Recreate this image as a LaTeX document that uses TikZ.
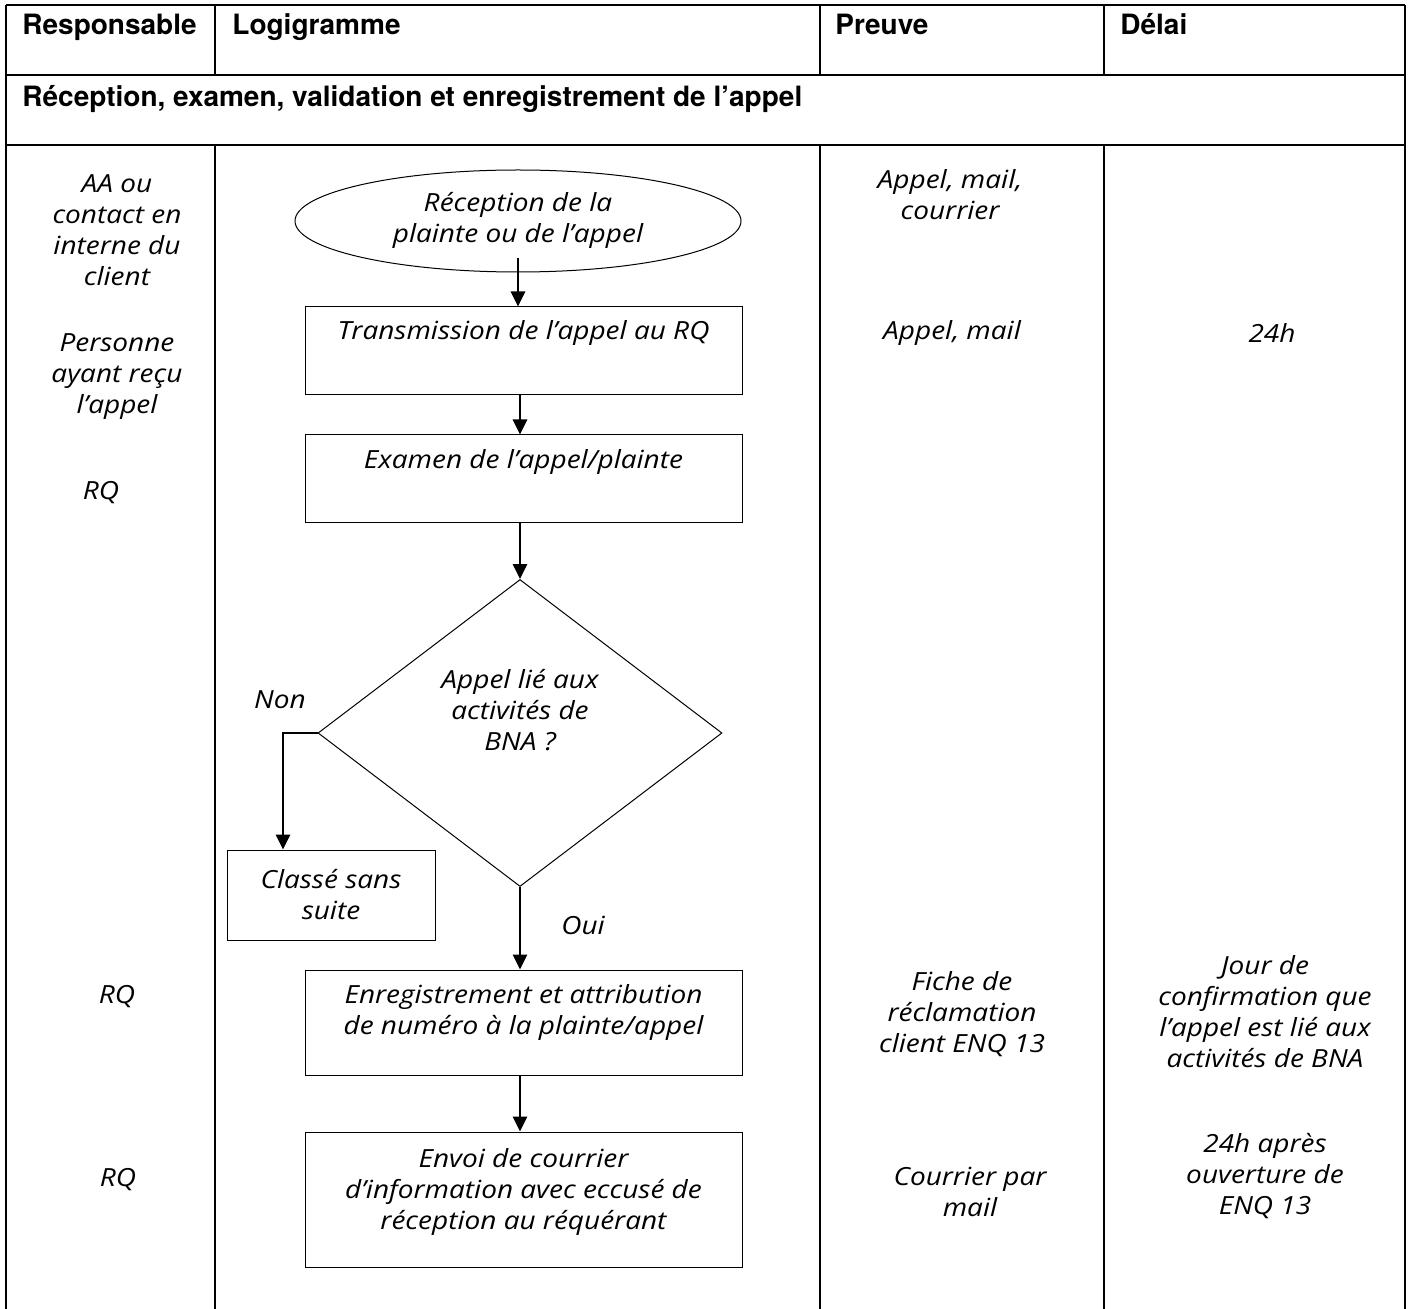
\documentclass[tikz,border=0pt]{standalone}
\usepackage{fontspec}
\newfontfamily\bodyfont{Open Sans}[FakeStretch=1.12]
\newfontfamily\headfont{TeX Gyre Heros}
\usetikzlibrary{arrows.meta}
\usetikzlibrary{shapes.geometric}

\begin{document}
\begin{tikzpicture}[x=0.5pt, y=-0.5pt]
            \tikzset{rule/.style={line width=0.9pt}}
            \tikzset{head/.style={font=\headfont\bfseries\fontsize{14}{16}\selectfont, anchor=base west, inner sep=0pt}}
            \tikzset{txt/.style={font=\bodyfont\itshape\fontsize{12.5}{15.5}\selectfont, align=center, inner sep=0pt}}
            \tikzset{box/.style={txt, draw, line width=0.5pt, minimum width=218.5pt}}
            \tikzset{flow/.style={-{Triangle[length=7.5pt, width=7pt]}, line width=1.35pt}}
            \useasboundingbox (0, 0) rectangle (1411, 1309);
            \foreach \y in {5, 75, 145} {
                \draw[rule] (6, \y) -- (1405, \y);
            }
            \foreach \x in {6, 1405} {
                \draw[rule] (\x, 5) -- (\x, 1309);
            }
            \foreach \x in {215, 820, 1104} {
                \draw[rule] (\x, 5) -- (\x, 75);
                \draw[rule] (\x, 145) -- (\x, 1309);
            }
            \node[head] (hdresp) at (22, 35) {Responsable};
            \node[head] (hdlogi) at (232, 35) {Logigramme};
            \node[head] (hdpreuve) at (835, 35) {Preuve};
            \node[head] (hddelai) at (1120, 35) {Délai};
            \node[head] (phase) at (22, 107) {Réception, examen, validation et enregistrement de l’appel};
            \node[txt] (resp1) at (117, 230) {AA ou\\contact en\\interne du\\client};
            \node[txt] (resp2) at (117, 377) {Personne\\ayant reçu\\l’appel};
            \node[txt] (resp3) at (101, 493) {RQ};
            \node[txt] (resp4) at (117, 997) {RQ};
            \node[txt] (resp5) at (118, 1180) {RQ};
            \node[txt] (preuve1) at (950, 195) {Appel, mail,\\courrier};
            \node[txt] (preuve2) at (952, 333) {Appel, mail};
            \node[txt] (preuve3) at (962, 1014) {Fiche de\\réclamation\\client ENQ 13};
            \node[txt] (preuve4) at (970, 1192) {Courrier par\\mail};
            \node[txt] (delai1) at (1272, 333) {24h};
            \node[txt] (delai2) at (1265, 1012) {Jour de\\confirmation que\\l’appel est lié aux\\activités de BNA};
            \node[txt] (delai3) at (1265, 1176) {24h après\\ouverture de\\ENQ 13};
            \node[txt, draw, ellipse, line width=0.5pt, minimum width=223pt, minimum height=51pt, text depth=4pt] (recep) at (518, 221) {Réception de la\\plainte ou de l’appel};
            \node[box, minimum height=44pt, text depth=21pt] (trans) at (523.5, 351) {Transmission de l’appel au RQ};
            \node[box, minimum height=44pt, text depth=20pt] (exam) at (523.5, 479) {Examen de l’appel/plainte};
            \node[txt, draw, diamond, line width=0.5pt, minimum width=202pt, minimum height=153.5pt, text depth=23pt] (test) at (520, 733) {Appel lié aux\\activités de\\BNA~?};
            \node[box, minimum width=104pt, minimum height=45pt] (classe) at (331, 895) {Classé sans\\suite};
            \node[box, minimum height=52.5pt, text depth=13pt] (enreg) at (523.5, 1022.5) {Enregistrement et attribution\\de numéro à la plainte/appel};
            \node[box, minimum height=67.5pt, text depth=10.5pt] (envoi) at (523.5, 1199.5) {Envoi de courrier\\d’information avec eccusé de\\réception au réquérant};
            \node[txt] (non) at (280, 700) {Non};
            \node[txt] (oui) at (583, 925) {Oui};
            \draw[flow, shorten <=-7pt] (recep.south) -- (recep.south |- trans.north);
            \draw[flow] (trans.south -| test.north) -- (exam.north -| test.north);
            \draw[flow] (exam.south -| test.north) -- (test.north);
            \draw[flow] (test.west) -| ([xshift=-24pt]classe.north);
            \draw[flow] (test.south) -- (test.south |- enreg.north);
            \draw[flow] (enreg.south -| test.south) -- (envoi.north -| test.south);
        \end{tikzpicture}
\end{document}
